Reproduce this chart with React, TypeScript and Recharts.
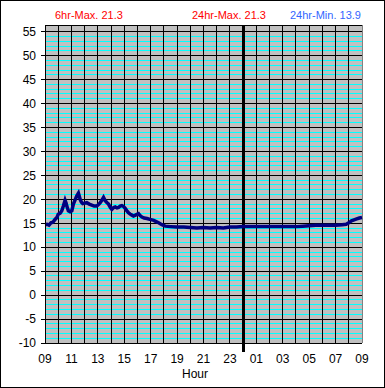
import React from 'react';
import { LineChart, Line, XAxis, YAxis, CartesianGrid, ReferenceLine } from 'recharts';

// hours since 09:00
const hours = [
  0.0, 0.15, 0.3, 0.45, 0.6, 0.76, 0.9, 1.0, 1.15, 1.27, 1.39, 1.52, 1.6, 1.65, 1.77, 1.9, 2.03, 2.15, 2.28, 2.4,
  2.53, 2.66, 2.76, 2.86, 3.0, 3.16, 3.35, 3.54, 3.72, 3.92, 4.05, 4.18, 4.3, 4.43, 4.56, 4.7, 4.81, 4.95, 5.06, 5.2,
  5.32, 5.45, 5.57, 5.7, 5.82, 5.95, 6.07, 6.2, 6.32, 6.45, 6.58, 6.7, 6.85, 7.0, 7.08, 7.2, 7.34, 7.5, 7.72, 7.95,
  8.23, 8.45, 8.6, 8.85, 9.1, 9.5, 10.0, 10.5, 11.0, 11.5, 12.0, 12.5, 13.0, 13.5, 14.0, 14.5, 15.0, 15.5, 16.0, 17.0,
  18.0, 19.0, 19.5, 20.0, 20.5, 21.0, 21.5, 22.0, 22.5, 22.8, 23.0, 23.2, 23.4, 23.6, 23.8, 24.0,
];
const temps = [
  14.7, 14.8, 14.6, 15.1, 15.2, 15.8, 16.2, 16.9, 17.1, 17.6, 18.6, 19.8, 19.2, 18.6, 17.6, 17.4, 17.6, 19.0, 19.9, 20.7,
  21.3, 20.0, 19.4, 19.1, 19.2, 19.3, 19.0, 18.8, 18.6, 18.6, 18.9, 19.3, 19.8, 20.4, 19.7, 19.3, 19.0, 18.3, 17.9, 18.3,
  18.4, 18.2, 18.3, 18.6, 18.7, 18.5, 18.1, 17.6, 17.2, 16.9, 16.7, 16.5, 16.7, 16.9, 17.0, 16.6, 16.3, 16.1, 16.0, 15.8,
  15.6, 15.3, 15.1, 14.7, 14.4, 14.3, 14.2, 14.2, 14.1, 14.0, 14.1, 14.0, 14.1, 14.0, 14.2, 14.2, 14.3, 14.3, 14.3, 14.3,
  14.3, 14.3, 14.4, 14.5, 14.6, 14.6, 14.6, 14.6, 14.7, 14.8, 15.1, 15.5, 15.7, 15.9, 16.1, 16.2,
];

const xTicks = [0, 1, 2, 3, 4, 5, 6, 7, 8, 9, 10, 11, 12, 13, 14, 15, 16, 17, 18, 19, 20, 21, 22, 23, 24];
const yTicks = [-10, -5, 0, 5, 10, 15, 20, 25, 30, 35, 40, 45, 50, 55];
const minorY = [
  -9, -8, -7, -6, -4, -3, -2, -1, 1, 2, 3, 4, 6, 7, 8, 9, 11, 12, 13, 14, 16, 17, 18, 19, 21, 22, 23, 24, 26, 27, 28, 29,
  31, 32, 33, 34, 36, 37, 38, 39, 41, 42, 43, 44, 46, 47, 48, 49, 51, 52, 53, 54,
];
const startHour = 9;
const midnight = 15;

const titles = [
  { text: '6hr-Max. 21.3', left: 55, color: '#ff0000' },
  { text: '24hr-Max. 21.3', left: 192, color: '#ff0000' },
  { text: '24hr-Min. 13.9', left: 290, color: '#3366ff' },
];

const data = hours.map((h, i) => ({ h, t: temps[i] }));

const hourLabel = (v: number) => {
  const hr = (startHour + v) % 24;
  return hr < 10 ? '0' + hr : String(hr);
};

const XTick = (props: any) => {
  const { x, y, payload } = props;
  const v = payload.value;
  return (
    <g>
      {v === midnight && (
        <line x1={x} x2={x} y1={y - 11} y2={y - 2} stroke="#000" strokeWidth={3} shapeRendering="crispEdges" />
      )}
      {v % 2 === 0 && (
        <text x={x} y={y} dy="0.71em" textAnchor="middle" fill="#000" fontSize={12}>
          {hourLabel(v)}
        </text>
      )}
    </g>
  );
};

export default function App() {
  return (
    <div
      style={{
        position: 'absolute',
        left: 0,
        top: 0,
        width: 385,
        height: 388,
        background: '#fff',
        fontFamily: '"Liberation Sans", Arial, sans-serif',
      }}
    >
      <LineChart width={385} height={388} data={data} margin={{ top: 25, right: 23, left: 0, bottom: 0 }}>
        <CartesianGrid
          fill="#c0c0c0"
          fillOpacity={1}
          vertical={false}
          stroke="#000"
          strokeOpacity={1}
          shapeRendering="crispEdges"
        />
        {minorY.map((v) => (
          <ReferenceLine key={'m' + v} y={v} stroke="#00ffff" strokeWidth={1} shapeRendering="crispEdges" />
        ))}
        {xTicks.slice(1).map((v) => (
          <ReferenceLine
            key={'v' + v}
            x={v}
            stroke={v === 24 ? '#808080' : '#000'}
            strokeWidth={v === midnight ? 3 : 1}
            shapeRendering="crispEdges"
          />
        ))}
        <XAxis
          dataKey="h"
          type="number"
          domain={[0, 24]}
          ticks={xTicks}
          interval={0}
          height={45}
          tickSize={0}
          tickMargin={11}
          tick={<XTick />}
          axisLine={{ stroke: '#000', shapeRendering: 'crispEdges' }}
          tickLine={false}
        />
        <YAxis
          type="number"
          domain={[-10, 56.4]}
          ticks={yTicks}
          interval={0}
          allowDataOverflow
          width={45}
          tickSize={4}
          tickMargin={5}
          tick={{ fill: '#000', fontSize: 12 }}
          axisLine={{ stroke: '#000', shapeRendering: 'crispEdges' }}
          tickLine={{ stroke: '#000', shapeRendering: 'crispEdges' }}
        />
        <Line
          dataKey="t"
          type="linear"
          stroke="#000080"
          strokeWidth={3.5}
          dot={false}
          isAnimationActive={false}
        />
      </LineChart>
      {titles.map((t) => (
        <div
          key={t.text}
          style={{
            position: 'absolute',
            left: t.left,
            top: 10,
            fontSize: 11,
            lineHeight: '11px',
            color: t.color,
            whiteSpace: 'nowrap',
          }}
        >
          {t.text}
        </div>
      ))}
      <div
        style={{
          position: 'absolute',
          left: 155,
          width: 80,
          textAlign: 'center',
          top: 368,
          fontSize: 12,
          lineHeight: '12px',
          color: '#000',
        }}
      >
        Hour
      </div>
      <div
        style={{
          position: 'absolute',
          left: 0,
          top: 0,
          width: 385,
          height: 388,
          boxSizing: 'border-box',
          border: '1px solid #000',
          pointerEvents: 'none',
        }}
      />
    </div>
  );
}
